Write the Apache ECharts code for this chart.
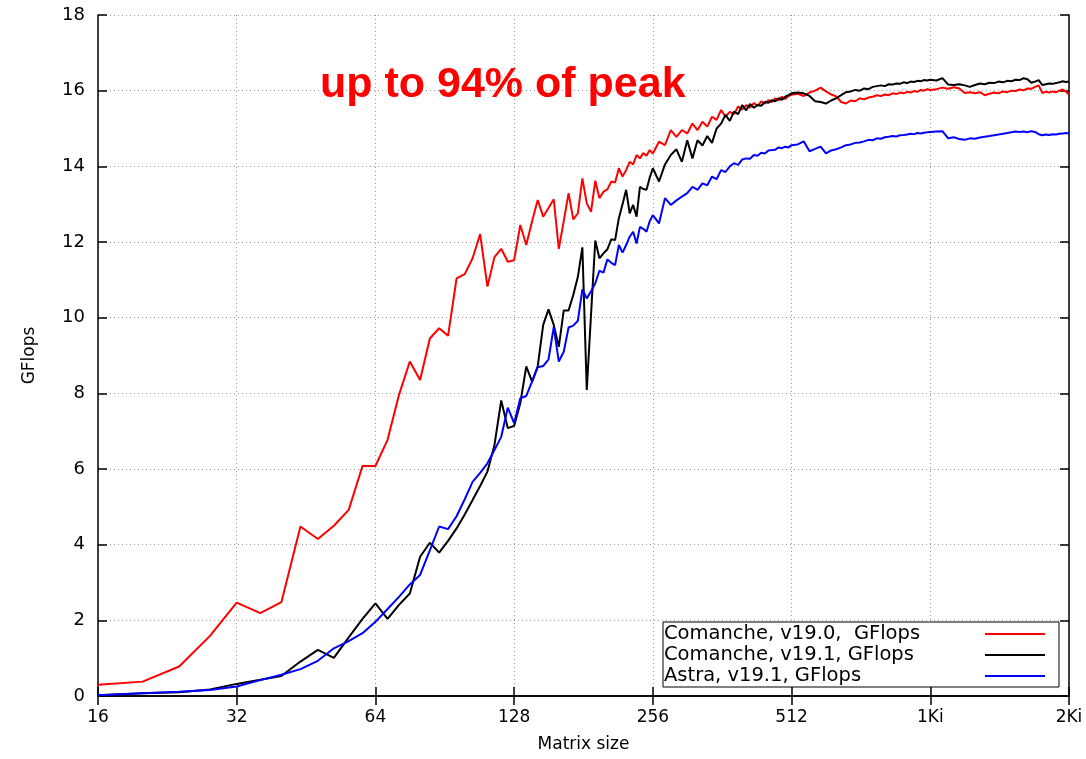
<!DOCTYPE html>
<html>
<head>
<meta charset="utf-8">
<script src="https://cdn.jsdelivr.net/npm/echarts@6/dist/echarts.min.js"></script>
<style>
html,body{margin:0;padding:0;background:#fff;}
#chart{width:1086px;height:759px;}
</style>
</head>
<body>
<div id="chart"></div>
<script>
// Matrix sizes (x values)
const sizes = [
  16,20,24,28,32,36,40,44,48,52,56,60,64,68,72,76,80,84,88,92,
  96,100,104,108,112,116,120,124,128,132,136,140,144,148,152,156,160,164,168,172,
  176,180,184,188,192,196,200,204,208,212,216,220,224,228,232,236,240,244,248,252,256,
  264,272,280,288,296,304,312,320,328,336,344,352,360,368,376,384,392,400,408,416,
  424,432,440,448,456,464,472,480,488,496,504,512,
  528,544,560,576,592,608,624,640,656,672,688,704,720,736,752,768,784,800,816,832,
  848,864,880,896,912,928,944,960,976,992,1008,1024,
  1056,1088,1120,1152,1184,1216,1248,1280,1312,1344,1376,1408,1440,1472,1504,1536,
  1568,1600,1632,1664,1696,1728,1760,1792,1824,1856,1888,1920,1952,1984,2016,2048
];

const seriesNames = ['Comanche, v19.0,  GFlops', 'Comanche, v19.1, GFlops', 'Astra, v19.1, GFlops'];

const comanche190 = [
  0.30,0.38,0.78,1.59,2.47,2.19,2.48,4.48,4.15,4.50,
  4.92,6.08,6.08,6.77,7.96,8.84,8.35,9.45,9.72,9.52,
  11.04,11.15,11.57,12.21,10.82,11.60,11.82,11.48,11.52,12.45,
  11.92,12.55,13.11,12.67,12.90,13.13,11.82,12.55,13.29,12.60,
  12.76,13.68,13.02,12.80,13.62,13.16,13.33,13.39,13.60,13.57,
  13.95,13.73,13.90,14.12,14.05,14.30,14.21,14.35,14.28,14.43,
  14.34,
  14.65,14.56,14.96,14.78,14.96,14.87,15.13,14.96,15.18,15.05,
  15.31,15.23,15.49,15.31,15.44,15.38,15.58,15.50,15.62,15.55,
  15.67,15.60,15.72,15.66,15.75,15.70,15.80,15.74,15.84,15.78,
  15.86,15.89,
  15.92,15.86,15.95,16.00,16.08,15.98,15.90,15.85,15.70,15.66,
  15.74,15.72,15.80,15.77,15.82,15.84,15.88,15.86,15.90,15.88,
  15.93,15.91,15.95,15.93,15.97,15.95,15.99,15.97,16.02,16.00,
  16.04,16.02,
  16.04,16.08,16.05,16.09,16.06,15.94,15.96,15.93,15.96,15.88,
  15.92,15.95,15.93,15.98,15.96,16.00,15.99,16.03,16.01,16.06,
  16.05,16.10,16.14,15.94,15.97,15.95,15.98,15.96,16.00,16.03,
  15.98,15.90
];

const comanche191 = [
  0.02,0.07,0.10,0.17,0.32,0.43,0.53,0.91,1.22,1.01,
  1.55,2.04,2.45,2.04,2.41,2.71,3.68,4.05,3.79,4.10,
  4.43,4.80,5.18,5.55,5.93,6.63,7.81,7.08,7.14,7.74,
  8.71,8.31,8.71,9.81,10.22,9.81,9.23,10.19,10.19,10.60,
  11.08,11.86,8.09,10.10,12.04,11.57,11.70,11.81,12.07,12.05,
  12.63,13.00,13.38,12.76,12.98,12.67,13.46,13.40,13.38,13.70,
  13.95,
  13.60,14.05,14.30,14.45,14.12,14.69,14.21,14.69,14.55,14.80,
  14.62,15.00,15.13,15.36,15.20,15.45,15.38,15.62,15.48,15.65,
  15.55,15.62,15.60,15.70,15.68,15.75,15.72,15.80,15.76,15.84,
  15.88,15.93,
  15.95,15.93,15.86,15.72,15.70,15.66,15.74,15.80,15.88,15.96,
  15.98,16.02,16.00,16.06,16.04,16.10,16.12,16.14,16.12,16.17,
  16.16,16.19,16.18,16.22,16.20,16.24,16.23,16.26,16.25,16.28,
  16.27,16.29,
  16.27,16.33,16.16,16.15,16.17,16.14,16.10,16.15,16.19,16.17,
  16.21,16.20,16.24,16.22,16.26,16.25,16.29,16.28,16.33,16.30,
  16.21,16.24,16.28,16.15,16.17,16.19,16.18,16.20,16.22,16.25,
  16.23,16.24
];

const astra191 = [
  0.02,0.07,0.11,0.16,0.25,0.42,0.56,0.71,0.93,1.26,
  1.45,1.66,1.96,2.30,2.62,2.95,3.20,3.85,4.48,4.41,
  4.75,5.20,5.66,5.90,6.15,6.50,6.85,7.62,7.21,7.87,
  7.93,8.31,8.69,8.72,8.90,9.75,8.84,9.10,9.74,9.79,
  9.92,10.75,10.51,10.70,10.91,11.24,11.19,11.54,11.45,11.39,
  11.92,11.72,11.92,12.14,12.27,11.96,12.40,12.35,12.27,12.55,
  12.71,
  12.49,13.16,12.98,13.10,13.20,13.29,13.46,13.38,13.55,13.50,
  13.73,13.66,13.90,13.85,14.00,14.08,14.04,14.18,14.21,14.20,
  14.30,14.28,14.36,14.34,14.42,14.43,14.44,14.50,14.48,14.52,
  14.50,14.56,
  14.58,14.66,14.40,14.46,14.52,14.34,14.42,14.45,14.50,14.56,
  14.58,14.62,14.63,14.66,14.70,14.69,14.74,14.73,14.77,14.78,
  14.80,14.79,14.82,14.83,14.84,14.86,14.85,14.88,14.87,14.89,
  14.90,14.91,
  14.92,14.93,14.74,14.77,14.72,14.70,14.74,14.73,14.76,14.78,
  14.80,14.82,14.84,14.86,14.88,14.90,14.92,14.91,14.92,14.90,
  14.93,14.91,14.85,14.82,14.84,14.83,14.85,14.84,14.86,14.87,
  14.88,14.87
];

const yTicks = [0,2,4,6,8,10,12,14,16,18];
const xTickLabels = {16:'16',32:'32',64:'64',128:'128',256:'256',512:'512',1024:'1Ki',2048:'2Ki'};

const colors = ['#ff0000', '#000000', '#0000ff'];
const allVals = [comanche190, comanche191, astra191];

const FONT = 'DejaVu Sans';
const gridLine = {show: true, lineStyle: {color: '#9a9a9a', width: 1, type: [1, 3]}};
const axisLine = {show: true, lineStyle: {color: '#000', width: 1.5}};

const chart = echarts.init(document.getElementById('chart'), null, {renderer: 'canvas'});
chart.setOption({
  animation: false,
  backgroundColor: '#fff',
  title: {
    text: 'up to 94% of peak',
    left: 320, top: 64, padding: 0,
    textStyle: {color: '#ff0000', fontSize: 43, fontWeight: 'bold', fontFamily: 'Liberation Sans'}
  },
  grid: {left: 98, right: 17, top: 15, bottom: 63},
  legend: {
    orient: 'vertical', left: 663, top: 622, align: 'right',
    icon: 'rect', itemWidth: 60, itemHeight: 2, itemGap: 1,
    padding: [2, 14, 1, 1],
    borderColor: '#000', borderWidth: 1, backgroundColor: '#fff',
    data: seriesNames,
    formatter: '{a|{name}}',
    textStyle: {
      fontFamily: FONT, fontSize: 19.5, color: '#000',
      rich: {a: {width: 316, align: 'left', fontFamily: FONT, fontSize: 19.5, lineHeight: 21, color: '#000'}}
    }
  },
  xAxis: [{
    type: 'log', logBase: 2, min: 16, max: 2048, splitNumber: 7,
    name: 'Matrix size', nameLocation: 'middle', nameGap: 40,
    nameTextStyle: {fontFamily: FONT, fontSize: 17, color: '#000'},
    axisLine: axisLine,
    axisTick: {show: true, inside: true, length: 9, lineStyle: {color: '#000', width: 1.5}},
    axisLabel: {
      margin: 13, fontFamily: FONT, fontSize: 17, color: '#000',
      formatter: v => { const r = Math.round(v); return xTickLabels[r] !== undefined ? xTickLabels[r] : ''; }
    },
    splitLine: gridLine
  }, {
    type: 'log', logBase: 2, min: 16, max: 2048, splitNumber: 7, position: 'top',
    axisLine: axisLine,
    axisTick: {show: true, inside: true, length: 9, lineStyle: {color: '#000', width: 1.5}},
    axisLabel: {show: false}, splitLine: {show: false}
  }],
  yAxis: [{
    type: 'value', min: yTicks[0], max: yTicks[yTicks.length - 1], interval: 2,
    name: 'GFlops', nameLocation: 'middle', nameGap: 60, nameRotate: 90,
    nameTextStyle: {fontFamily: FONT, fontSize: 17, color: '#000'},
    axisLine: axisLine,
    axisTick: {show: true, inside: true, length: 9, lineStyle: {color: '#000', width: 1.5}},
    axisLabel: {margin: 13, fontFamily: FONT, fontSize: 18, color: '#000'},
    splitLine: gridLine
  }, {
    type: 'value', min: yTicks[0], max: yTicks[yTicks.length - 1], interval: 2, position: 'right',
    axisLine: axisLine,
    axisTick: {show: true, inside: true, length: 9, lineStyle: {color: '#000', width: 1.5}},
    axisLabel: {show: false}, splitLine: {show: false}
  }],
  series: seriesNames.map((name, k) => ({
    name: name,
    type: 'line',
    xAxisIndex: 0, yAxisIndex: 0,
    showSymbol: false, symbol: 'none',
    color: colors[k],
    lineStyle: {color: colors[k], width: 2},
    data: sizes.map((s, i) => [s, allVals[k][i]])
  }))
});
</script>
</body>
</html>
